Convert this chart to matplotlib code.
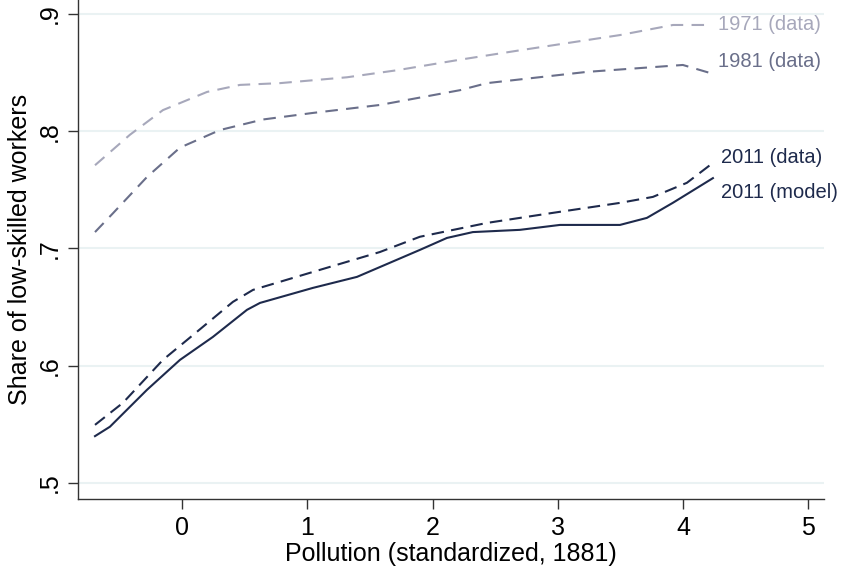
import numpy as np
import matplotlib.pyplot as plt

plt.rcParams['font.family'] = ['Liberation Sans', 'DejaVu Sans']

# smoothed shares by pollution level
x_1971 = [-0.694, -0.415, -0.152, 0.200, 0.463, 0.782, 1.317, 1.716, 2.219, 2.697, 3.496, 3.919, 4.214]
y_1971 = [0.771, 0.797, 0.818, 0.8335, 0.8395, 0.841, 0.846, 0.852, 0.861, 0.869, 0.882, 0.8906, 0.8906]

x_1981 = [-0.694, -0.551, -0.279, -0.016, 0.303, 0.646, 1.045, 1.580, 2.219, 2.434, 3.232, 3.998, 4.214]
y_1981 = [0.714, 0.730, 0.761, 0.786, 0.801, 0.810, 0.8156, 0.8224, 0.835, 0.841, 0.8506, 0.8565, 0.8497]

x_2011d = [-0.694, -0.471, -0.152, 0.120, 0.407, 0.567, 1.045, 1.580, 1.899, 2.434, 2.961, 3.496, 3.759, 4.030, 4.238]
y_2011d = [0.5496, 0.5684, 0.605, 0.629, 0.6545, 0.6647, 0.680, 0.697, 0.710, 0.7218, 0.7304, 0.7389, 0.744, 0.756, 0.773]

x_2011m = [-0.694, -0.575, -0.279, -0.016, 0.247, 0.519, 0.623, 1.045, 1.397, 1.899, 2.115, 2.322, 2.697,
           3.017, 3.496, 3.711, 3.919, 4.238]
y_2011m = [0.540, 0.548, 0.5795, 0.605, 0.6246, 0.6477, 0.6536, 0.6664, 0.6758, 0.6988, 0.709, 0.714, 0.7159,
           0.7201, 0.7201, 0.7261, 0.739, 0.760]

c71 = '#a7a8bb'
c81 = '#6a6f8a'
c11 = '#1e2a4c'

fig = plt.figure(figsize=(8.41, 5.76), dpi=100)
ax = fig.add_axes([0.0927, 0.1337, 0.887, 0.8663])

ax.plot(x_1971, y_1971, color=c71, lw=1.5, dashes=(6, 4))
ax.plot(x_1981, y_1981, color=c81, lw=1.5, dashes=(6, 4))
ax.plot(x_2011d, y_2011d, color=c11, lw=1.5, dashes=(6, 3.5))
ax.plot(x_2011m, y_2011m, color=c11, lw=1.5)

# line-end labels
labels = [(x_1971, y_1971, '1971 (data)', c71, 0),
          (x_1981, y_1981, '1981 (data)', c81, 8),
          (x_2011d, y_2011d, '2011 (data)', c11, 4),
          (x_2011m, y_2011m, '2011 (model)', c11, -10)]
for xs, ys, txt, col, dy in labels:
    ax.annotate(txt, (xs[-1], ys[-1]), xytext=(5.5, dy), textcoords='offset points',
                color=col, fontsize=14.5, va='center', ha='left')

ax.set_xlim(-0.83, 5.124)
ax.set_ylim(0.4864, 0.9119)
ax.set_xticks([0, 1, 2, 3, 4, 5])
ax.set_yticks([0.5, 0.6, 0.7, 0.8, 0.9])
ax.set_yticklabels(['.5', '.6', '.7', '.8', '.9'], rotation=90, va='center')
ax.tick_params(labelsize=18, length=7, width=1, color='#333333', pad=5)
ax.grid(axis='y', color='#eaf2f3', lw=1.5)
ax.set_axisbelow(True)
for s in ['top', 'right']:
    ax.spines[s].set_visible(False)
for s in ['left', 'bottom']:
    ax.spines[s].set_color('#333333')
    ax.spines[s].set_linewidth(1)

ax.set_xlabel('Pollution (standardized, 1881)', fontsize=18, labelpad=2)
ax.set_ylabel('Share of low-skilled workers', fontsize=18, labelpad=4)

plt.savefig('out.png', dpi=100)
